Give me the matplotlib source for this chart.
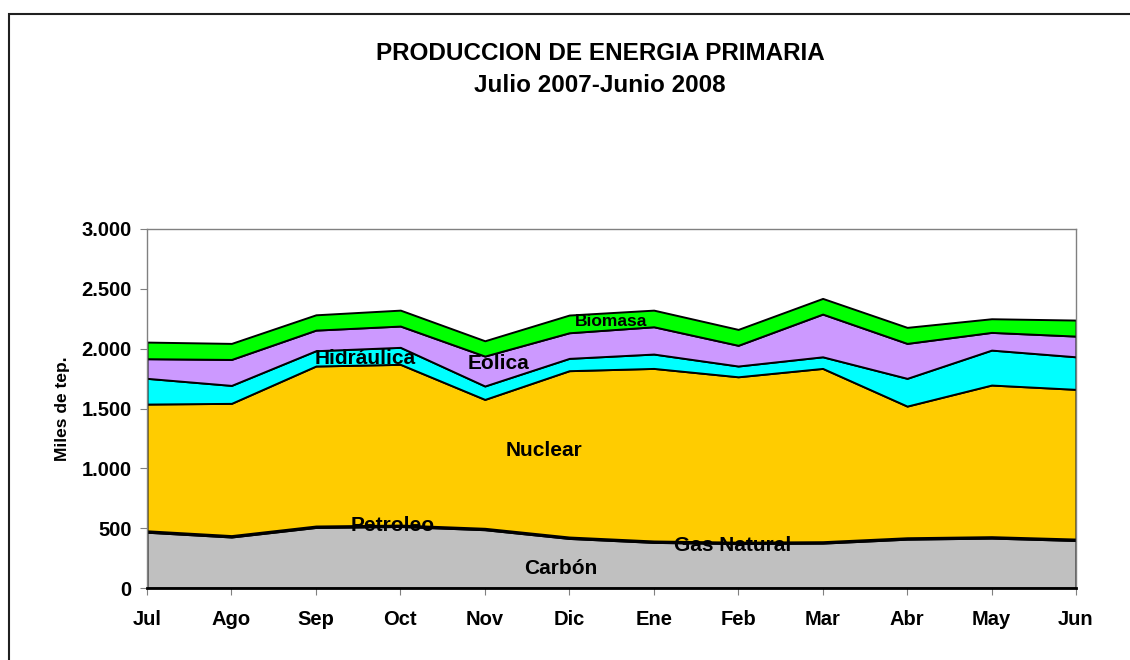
import matplotlib.pyplot as plt
import numpy as np
from matplotlib.ticker import FuncFormatter
from matplotlib.patches import Rectangle

plt.rcParams['font.family'] = ['Liberation Sans', 'DejaVu Sans']
plt.rcParams['font.weight'] = 'bold'

meses = ['Jul', 'Ago', 'Sep', 'Oct', 'Nov', 'Dic', 'Ene', 'Feb', 'Mar', 'Abr', 'May', 'Jun']

# miles de tep por mes
carbon = [466, 426, 506, 514, 487, 414, 381, 371, 375, 408, 417, 397]
petroleo = [10, 10, 10, 10, 10, 10, 10, 10, 10, 10, 10, 10]
gas_natural = [2, 2, 2, 2, 2, 2, 2, 2, 2, 2, 2, 2]
nuclear = [1059, 1105, 1337, 1343, 1077, 1390, 1442, 1382, 1448, 1100, 1267, 1251]
hidraulica = [215, 150, 128, 142, 112, 103, 120, 90, 97, 232, 292, 272]
eolica = [164, 217, 172, 178, 250, 214, 228, 173, 357, 292, 148, 173]
biomasa = [139, 134, 128, 133, 128, 148, 139, 133, 131, 134, 114, 134]

series = [carbon, petroleo, gas_natural, nuclear, hidraulica, eolica, biomasa]
colores = ['#C0C0C0', '#000000', '#000000', '#FFCC00', '#00FFFF', '#CC99FF', '#00FF00']

fig = plt.figure(figsize=(11.3, 6.6), dpi=100)
ax = fig.add_axes([147/1130, 1 - 588/660, (1076-147)/1130, (588-229)/660])

x = np.arange(len(meses))
ax.stackplot(x, *series, colors=colores, edgecolor='black', linewidth=1.4)

ax.set_xlim(0, len(meses) - 1)
ax.set_ylim(0, 3000)
ax.set_yticks(range(0, 3001, 500))
ax.yaxis.set_major_formatter(FuncFormatter(lambda v, p: '{:,.0f}'.format(v).replace(',', '.')))
ax.set_xticks(x)
ax.set_xticklabels(meses)
ax.tick_params(axis='both', labelsize=14.5, direction='out', length=5, color='#808080')
ax.tick_params(axis='x', pad=11)
ax.tick_params(axis='y', pad=6)

for s in ['top', 'right', 'left']:
    ax.spines[s].set_color('#808080')
    ax.spines[s].set_linewidth(1)
ax.spines['bottom'].set_color('black')
ax.spines['bottom'].set_linewidth(2)

ax.set_ylabel('Miles de tep.', fontsize=12.5, fontweight='bold', labelpad=8)

# etiquetas de las areas
etiquetas = [('Nuclear', 4.70, 1145, 15), ('Carbón', 4.90, 167, 15),
             ('Gas Natural', 6.94, 351, 15), ('Petroleo', 2.91, 526, 15),
             ('Hidráulica', 2.58, 1921, 15), ('Eolica', 4.16, 1880, 15),
             ('Biomasa', 5.49, 2231, 12.5)]
for txt, xx, yy, fs in etiquetas:
    ax.text(xx, yy, txt, ha='center', va='center', fontsize=fs, fontweight='bold')

fig.text(600/1130, 1 - 53/660, 'PRODUCCION DE ENERGIA PRIMARIA', ha='center', va='center',
         fontsize=17.5, fontweight='bold')
fig.text(600/1130, 1 - 85/660, 'Julio 2007-Junio 2008', ha='center', va='center',
         fontsize=17.5, fontweight='bold')

fig.patches.append(Rectangle((9/1130, -0.1), 1.2, 1 - 14/660 + 0.1, transform=fig.transFigure,
                             fill=False, edgecolor='#202020', linewidth=1.5))

fig.savefig('out.png', dpi=100)
